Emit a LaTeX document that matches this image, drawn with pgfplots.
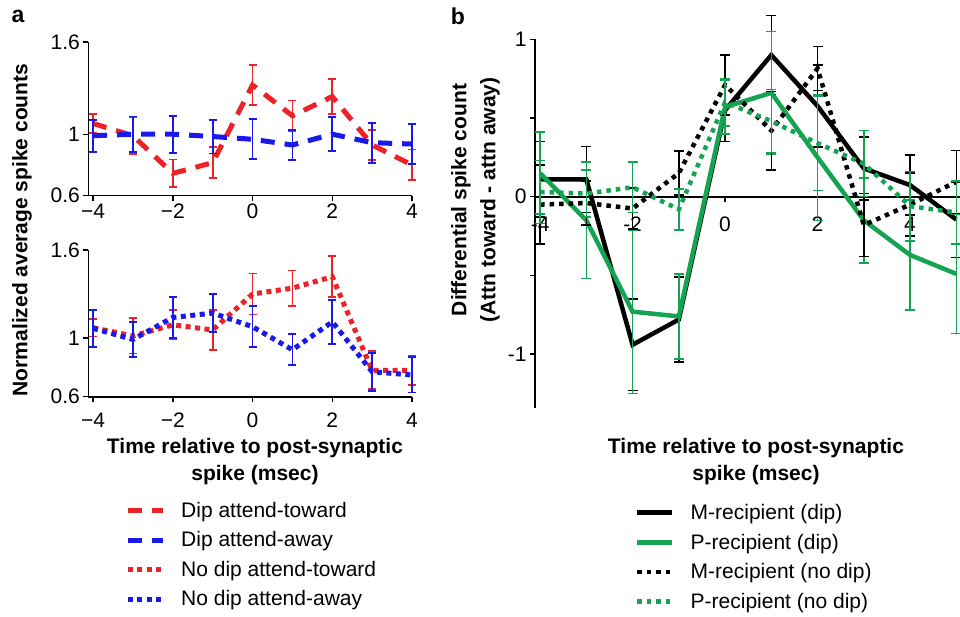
\documentclass[border=0pt]{standalone}
\usepackage{pgfplots}
\pgfplotsset{compat=1.18}
\usepackage{pgfplotstable}
\usepackage{fontspec}
\setmainfont{Liberation Sans}
\definecolor{cred}{RGB}{235,35,40}
\definecolor{cblue}{RGB}{25,25,235}
\definecolor{cgreen}{RGB}{20,163,80}
\newcommand{\fs}{\fontsize{21}{25}\selectfont}
\newcommand{\lo}{\rule{0pt}{22pt}}
\newcommand{\lob}{\rule{0pt}{26pt}}

\pgfplotstableread{
x r re b be
-4 1.07 0.06 0.99 0.105
-3 0.99 0.12 1.00 0.115
-2 0.745 0.09 1.00 0.12
-1 0.815 0.10 0.985 0.11
0 1.32 0.13 0.967 0.13
1 1.12 0.10 0.93 0.10
2 1.245 0.115 1.00 0.11
3 0.93 0.10 0.945 0.13
4 0.80 0.10 0.936 0.13
}\tabAtop

\pgfplotstableread{
x r re b be
-4 1.07 0.06 1.066 0.125
-3 1.014 0.12 0.99 0.12
-2 1.09 0.10 1.14 0.14
-1 1.055 0.135 1.17 0.13
0 1.30 0.14 1.077 0.14
1 1.34 0.12 0.92 0.105
2 1.418 0.14 1.11 0.15
3 0.78 0.13 0.77 0.13
4 0.78 0.10 0.748 0.12
}\tabAbot

\pgfplotstableread{
x ms mse ps pse mn mne pn pne
-4 0.11 0.24 0.15 0.26 -0.05 0.25 0.03 0.20
-3 0.11 0.21 -0.15 0.37 -0.04 0.14 0.02 0.15
-2 -0.94 0.29 -0.73 0.52 -0.075 0.13 0.06 0.16
-1 -0.78 0.27 -0.76 0.27 0.15 0.14 -0.08 0.13
0 0.55 0.20 0.57 0.17 0.71 0.19 0.60 0.15
1 0.90 0.25 0.66 0.39 0.42 0.25 0.48 0.20
2 0.576 0.26 0.25 0.40 0.815 0.14 0.34 0.30
3 0.18 0.20 -0.15 0.27 -0.18 0.20 0.21 0.21
4 0.074 0.19 -0.37 0.35 -0.05 0.20 -0.06 0.22
5 -0.145 0.24 -0.49 0.38 0.095 0.20 -0.10 0.20
}\tabB

\tikzset{
  dipA/.style={line width=5pt, dash pattern=on 14pt off 10pt},
  ndA/.style={line width=5pt, dash pattern=on 5pt off 4.5pt},
  solB/.style={line width=4.5pt},
  dotB/.style={line width=4.5pt, dash pattern=on 4.5pt off 5pt},
}
\pgfplotsset{
  ebA/.style={error bars/.cd, y dir=both, y explicit,
    error bar style={solid, line width=1.8pt},
    error mark options={solid, rotate=90, mark size=4pt, line width=1.8pt}},
  ebB/.style={error bars/.cd, y dir=both, y explicit,
    error bar style={solid, line width=1.5pt},
    error mark options={solid, rotate=90, mark size=5pt, line width=1.5pt}},
  every axis/.append style={
    scale only axis,
    axis line style={line width=1.6pt,-},
    tick style={line width=1.4pt,black},
    major tick length=5pt,
    tick align=outside,
    ticklabel style={font=\fs},
    clip=false,
  },
  legend image code/.code={\draw[#1] (0pt,0pt) -- (35pt,0pt);},
}

\begin{document}
\begin{tikzpicture}[x=1pt,y=1pt]
\useasboundingbox (0pt,0pt) rectangle (960pt,616pt);

% Panel a top
\begin{axis}[
  at={(88.3pt,420.3pt)}, anchor=south west,
  width=323.7pt, height=153.7pt,
  xmin=-4.12, xmax=4, ymin=0.6, ymax=1.6,
  axis x line*=bottom, axis y line*=left,
  axis line style={line width=1.6pt,-},
  xtick={-4,-2,0,2,4}, xticklabels={−4,−2,0,2,4},
  ytick={0.6,1,1.6}, yticklabels={0.6,1,1.6},
]
\addplot[cred, dipA, ebA] table[x=x,y=r,y error=re]{\tabAtop};
\addplot[cblue, dipA, ebA] table[x=x,y=b,y error=be]{\tabAtop};
\end{axis}

% Panel a bottom
\begin{axis}[
  at={(88.3pt,219.3pt)}, anchor=south west,
  width=323.7pt, height=146.7pt,
  xmin=-4.12, xmax=4, ymin=0.6, ymax=1.6,
  axis x line*=bottom, axis y line*=left,
  axis line style={line width=1.6pt,-},
  xtick={-4,-2,0,2,4},
  xticklabels={\lo−4,\lo−2,\lo0,\lo2,\lo4},
  ytick={0.6,1,1.6}, yticklabels={0.6,1,1.6},
  legend style={draw=none, fill=none, at={(0.1134,-0.704)}, anchor=north west,
    font=\fs, row sep=8.8pt, inner sep=0pt, column sep=14pt},
  legend cell align=left,
]
\addlegendimage{cred, dipA}
\addlegendimage{cblue, dipA}
\addplot[cred, ndA, ebA] table[x=x,y=r,y error=re]{\tabAbot};
\addplot[cblue, ndA, ebA] table[x=x,y=b,y error=be]{\tabAbot};
\legend{Dip attend-toward, Dip attend-away, No dip attend-toward, No dip attend-away}
\end{axis}

% Panel b
\begin{axis}[
  at={(535pt,208.3pt)}, anchor=south west,
  width=425pt, height=368.4pt,
  xmin=-4.11, xmax=5.08, ymin=-1.34, ymax=1,
  axis x line*=middle, axis y line*=left,
  axis line style={line width=1.6pt,-},
  every outer y axis line/.append style={-},
  every inner x axis line/.append style={-},
  xtick={-4,-2,0,2,4},
  xticklabels={\lob-4,\lob-2,\lob0,\lob2,\lob4},
  ytick={-1,-0.5,0,0.5,1}, yticklabels={-1,,0,,1},
  legend style={draw=none, fill=none, at={(0.2353,-0.256)}, anchor=north west,
    font=\fs, row sep=9pt, inner sep=0pt, column sep=14pt},
  legend cell align=left,
]
\addplot[black, solB, ebB] table[x=x,y=ms,y error=mse]{\tabB};
\addplot[cgreen, solB, ebB] table[x=x,y=ps,y error=pse]{\tabB};
\addplot[black, dotB, ebB] table[x=x,y=mn,y error=mne]{\tabB};
\addplot[cgreen, dotB, ebB] table[x=x,y=pn,y error=pne]{\tabB};
\legend{M-recipient (dip), P-recipient (dip), M-recipient (no dip), P-recipient (no dip)}
\end{axis}

% Labels
\node[font=\fontsize{23}{27}\selectfont\bfseries] at (18pt,600pt) {a};
\node[font=\fontsize{23}{27}\selectfont\bfseries] at (458pt,600pt) {b};
\node[rotate=90, font=\fs\bfseries] at (22pt,386pt) {Normalized average spike counts};
\node[align=center, font=\fontsize{21}{27}\selectfont\bfseries] at (255pt,154pt) {Time relative to post-synaptic\\spike (msec)};
\node[align=center, font=\fontsize{21}{27}\selectfont\bfseries] at (756pt,154pt) {Time relative to post-synaptic\\spike (msec)};
\node[rotate=90, align=center, font=\fontsize{21}{29}\selectfont\bfseries] at (475.5pt,416pt) {Differential spike count\\(Attn toward - attn away)};
\end{tikzpicture}
\end{document}
